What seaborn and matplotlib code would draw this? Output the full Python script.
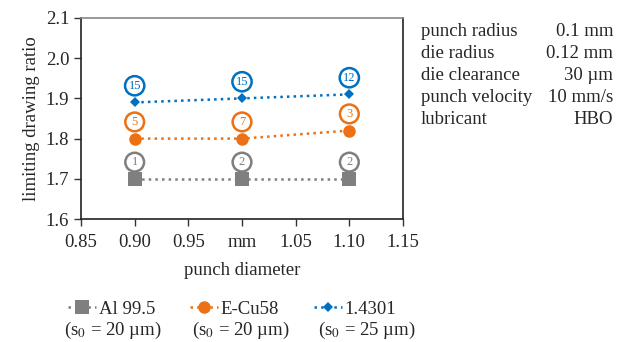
import pandas as pd
import seaborn as sns
import matplotlib.pyplot as plt

# punch diameter in mm
diameters = [0.90, 1.00, 1.10]

# limiting drawing ratio per material
ldr_al = [1.70, 1.70, 1.70]
ldr_cu = [1.80, 1.80, 1.82]
ldr_steel = [1.89, 1.90, 1.91]

# number of samples shown in the circles
n_al = [1, 2, 2]
n_cu = [5, 7, 3]
n_steel = [15, 15, 12]

materials = ['Al 99.5', 'E-Cu58', '1.4301']
thickness = ['(s$_0$ = 20 µm)', '(s$_0$ = 20 µm)', '(s$_0$ = 25 µm)']
colors = ['#7f7f7f', '#ec7014', '#0070c0']
markers = ['s', 'o', 'D']
marker_sizes = [10, 9, 5]

x_ticks = [0.85, 0.90, 0.95, 1.00, 1.05, 1.10, 1.15]
x_tick_labels = ['0.85', '0.90', '0.95', 'mm', '1.05', '1.10', '1.15']
y_ticks = [1.6, 1.7, 1.8, 1.9, 2.0, 2.1]

params = ['punch radius', 'die radius', 'die clearance', 'punch velocity', 'lubricant']
param_values = ['0.1 mm', '0.12 mm', '30 µm', '10 mm/s', 'HBO']

sns.set_style('white')
plt.rcParams['font.family'] = ['Liberation Serif', 'DejaVu Serif']
plt.rcParams['mathtext.fontset'] = 'stix'

df = pd.DataFrame({
    'diameter': diameters * 3,
    'ldr': ldr_al + ldr_cu + ldr_steel,
    'count': n_al + n_cu + n_steel,
    'material': [m for m in materials for _ in diameters],
})

fig = plt.figure(figsize=(6.41, 3.42), dpi=100)
ax = fig.add_axes([0.1264, 0.3596, 0.5023, 0.5878])

for mat, col, mk, ms in zip(materials, colors, markers, marker_sizes):
    sub = df[df['material'] == mat]
    sns.lineplot(data=sub, x='diameter', y='ldr', ax=ax, color=col, linestyle=':',
                 linewidth=1.8, marker=mk, markersize=ms, markeredgewidth=0,
                 label=mat)
    # sample counts in circles above each point
    for xv, yv, n in zip(sub['diameter'], sub['ldr'], sub['count']):
        ax.annotate(str(n), (xv, yv), xytext=(0, 12), textcoords='offset points',
                    ha='center', va='center', fontsize=9, color=col,
                    bbox=dict(boxstyle='circle,pad=0.27', fc='white', ec=col, lw=1.8))

ax.set_xlim(0.85, 1.15)
ax.set_ylim(1.6, 2.1)
ax.set_xticks(x_ticks)
ax.set_xticklabels(x_tick_labels)
ax.set_yticks(y_ticks)
ax.set_yticklabels([f'{v:.1f}' for v in y_ticks])
ax.tick_params(labelsize=13.5, length=5, width=1, color='#333333', direction='out',
               bottom=True, left=True)
ax.tick_params(axis='x', pad=6)
ax.set_xlabel('punch diameter', fontsize=13.5, labelpad=8)
ax.set_ylabel('limiting drawing ratio', fontsize=13.5)

for side in ['left', 'right', 'bottom']:
    ax.spines[side].set_color('#222222')
ax.spines['top'].set_color('#888888')
for s in ax.spines.values():
    s.set_linewidth(1.2)

leg = ax.legend(loc='upper left', bbox_to_anchor=(-0.064, -0.37), ncol=3, frameon=False,
                fontsize=13.5, handlelength=1.5, handletextpad=0.15, columnspacing=1.85,
                borderaxespad=0)

for xc, txt in zip([113, 241, 367], thickness):
    fig.text(xc / 641, 1 - 330 / 342, txt, ha='center', va='center', fontsize=13.5)

for i, (p, v) in enumerate(zip(params, param_values)):
    yy = 1 - (31 + 22 * i) / 342
    fig.text(421 / 641, yy, p, ha='left', va='center', fontsize=13.5)
    fig.text(613 / 641, yy, v, ha='right', va='center', fontsize=13.5)

fig.savefig('out.png', dpi=100)
